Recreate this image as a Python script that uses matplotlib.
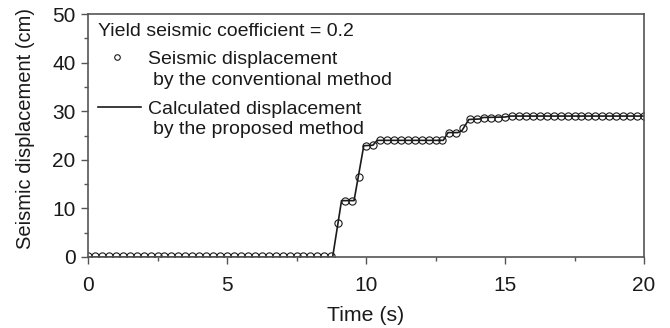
import matplotlib
matplotlib.use("Agg")
import matplotlib.pyplot as plt
import matplotlib.lines as mlines
from matplotlib.ticker import MultipleLocator

plt.rcParams['font.family'] = ['Liberation Sans', 'DejaVu Sans']

# Seismic displacement by the conventional method (markers every 0.25 s)
t_conv = [0.0, 0.25, 0.5, 0.75, 1.0, 1.25, 1.5, 1.75, 2.0, 2.25, 2.5, 2.75,
          3.0, 3.25, 3.5, 3.75, 4.0, 4.25, 4.5, 4.75, 5.0, 5.25, 5.5, 5.75,
          6.0, 6.25, 6.5, 6.75, 7.0, 7.25, 7.5, 7.75, 8.0, 8.25, 8.5, 8.75,
          9.0, 9.25, 9.5, 9.75, 10.0, 10.25, 10.5, 10.75, 11.0, 11.25, 11.5,
          11.75, 12.0, 12.25, 12.5, 12.75, 13.0, 13.25, 13.5, 13.75, 14.0,
          14.25, 14.5, 14.75, 15.0, 15.25, 15.5, 15.75, 16.0, 16.25, 16.5,
          16.75, 17.0, 17.25, 17.5, 17.75, 18.0, 18.25, 18.5, 18.75, 19.0,
          19.25, 19.5, 19.75, 20.0]
d_conv = [0.3, 0.3, 0.3, 0.3, 0.3, 0.3, 0.3, 0.3, 0.3, 0.3, 0.3, 0.3,
          0.3, 0.3, 0.3, 0.3, 0.3, 0.3, 0.3, 0.3, 0.3, 0.3, 0.3, 0.3,
          0.3, 0.3, 0.3, 0.3, 0.3, 0.3, 0.3, 0.3, 0.3, 0.3, 0.3, 0.3,
          7.0, 11.6, 11.6, 16.4, 22.9, 23.0, 24.0, 24.0, 24.0, 24.0, 24.0,
          24.0, 24.0, 24.0, 24.0, 24.0, 25.6, 25.6, 26.5, 28.3, 28.3,
          28.7, 28.7, 28.7, 28.8, 29.0, 29.0, 29.0, 29.0, 29.0, 29.0,
          29.0, 29.0, 29.0, 29.0, 29.0, 29.0, 29.0, 29.0, 29.0, 29.0,
          29.0, 29.0, 29.0, 29.0]

# Calculated displacement by the proposed method (polyline vertices)
t_calc = [0.0, 8.8, 9.12, 9.57, 9.92, 10.25, 10.4, 12.78, 12.95, 13.3,
          13.45, 13.7, 14.1, 14.2, 15.0, 15.2, 20.0]
d_calc = [0.0, 0.0, 11.6, 11.6, 22.9, 23.0, 24.0, 24.0, 25.6, 25.6,
          26.0, 28.3, 28.4, 28.7, 28.8, 29.0, 29.0]

x_ticks = [0, 5, 10, 15, 20]
y_ticks = [0, 10, 20, 30, 40, 50]

legend_title = 'Yield seismic coefficient = 0.2'
label_conv = ['Seismic displacement', 'by the conventional method']
label_calc = ['Calculated displacement', 'by the proposed method']

W, H = 670, 328
fig = plt.figure(figsize=(W / 100, H / 100), dpi=100)
AX_L, AX_R, AX_T, AX_B = 88, 644, 14, 257
ax = fig.add_axes([AX_L / W, 1 - AX_B / H, (AX_R - AX_L) / W, (AX_B - AX_T) / H])

dark = '#1a1a1a'
spine_c = '#555555'

ax.plot(t_conv, d_conv, linestyle='none', marker='o', markersize=5.2,
        markerfacecolor='none', markeredgecolor=dark, markeredgewidth=0.8)
ax.plot(t_calc, d_calc, color=dark, linewidth=1.2)

ax.set_xlim(0, 20)
ax.set_ylim(0, 50)
ax.set_xticks(x_ticks)
ax.set_yticks(y_ticks)
ax.xaxis.set_minor_locator(MultipleLocator(2.5))
ax.yaxis.set_minor_locator(MultipleLocator(5))
ax.tick_params(which='major', direction='out', length=5, width=1.0,
               color=spine_c, labelsize=15, labelcolor=dark)
ax.tick_params(axis='x', which='major', pad=8.5)
ax.tick_params(axis='y', which='major', pad=4)
ax.tick_params(which='minor', direction='out', length=3.2, width=1.0,
               color=spine_c)
ax.tick_params(top=False, right=False, which='both')
for s in ax.spines.values():
    s.set_color(spine_c)
    s.set_linewidth(1.2)

ax.set_xlabel('Time (s)', fontsize=15.3, color=dark, labelpad=8)
ax.set_ylabel('Seismic displacement (cm)', fontsize=14.5, color=dark)
ax.yaxis.set_label_coords((35 - AX_L) / (AX_R - AX_L), 0.5 + 7 / (AX_B - AX_T))


# manual legend, positioned in pixel space relative to the axes
def ax_frac(px, py):
    return ((px - AX_L) / (AX_R - AX_L), (AX_B - py) / (AX_B - AX_T))


lfs = 14
kw = dict(transform=ax.transAxes, fontsize=lfs, color=dark, va='baseline', ha='left')
ax.text(*ax_frac(97.5, 36.5), legend_title, **kw)
ax.text(*ax_frac(148.3, 64), label_conv[0], **kw)
ax.text(*ax_frac(153.3, 85.3), label_conv[1], **kw)
ax.text(*ax_frac(148.3, 113.5), label_calc[0], **kw)
ax.text(*ax_frac(153.3, 134.5), label_calc[1], **kw)
mx, my = ax_frac(117.3, 56.7)
ax.add_line(mlines.Line2D([mx], [my], transform=ax.transAxes, linestyle='none',
                          marker='o', markersize=4, markerfacecolor='none',
                          markeredgecolor=dark, markeredgewidth=0.8))
x0, y0 = ax_frac(97.7, 106.7)
x1, _ = ax_frac(140.5, 106.7)
ax.add_line(mlines.Line2D([x0, x1], [y0, y0], transform=ax.transAxes,
                          color=dark, linewidth=1.2))

fig.savefig('out.png', dpi=100)
